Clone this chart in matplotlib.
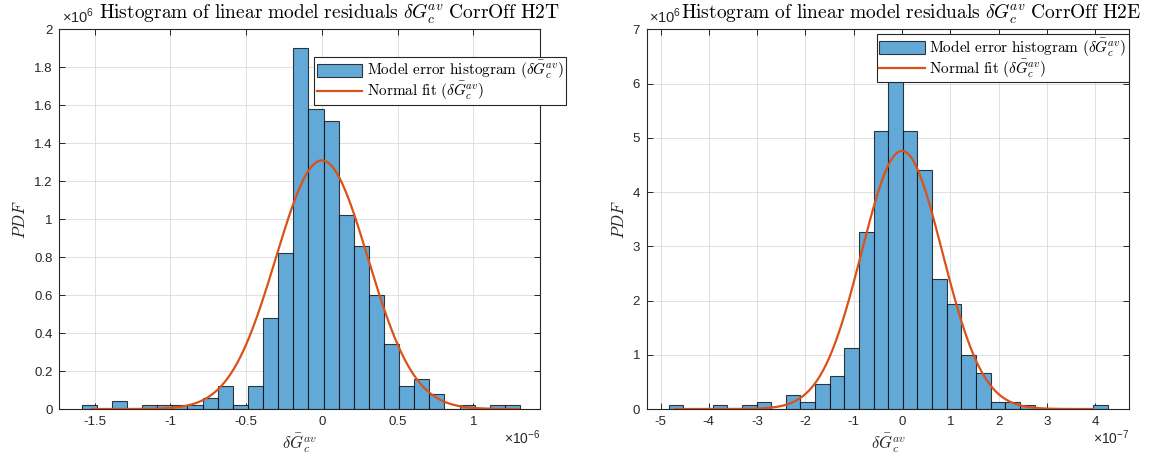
import numpy as np
import matplotlib
matplotlib.use("Agg")
import matplotlib.pyplot as plt
from matplotlib.ticker import FuncFormatter, MultipleLocator

plt.rcParams['font.family'] = ['Liberation Sans', 'DejaVu Sans']
plt.rcParams['mathtext.fontset'] = 'cm'
plt.rcParams['mathtext.rm'] = 'Liberation Sans'

# --- H2T: histogram densities (PDF) per bin, bins start at left_start, width left_width
left_start = -1.586e-6
left_width = 0.0998e-6
left_pdf = [0.02, 0, 0.04, 0, 0.02, 0.02, 0.02, 0.02, 0.06, 0.12,
            0.02, 0.12, 0.48, 0.82, 1.90, 1.58, 1.52, 1.02, 0.86, 0.60,
            0.34, 0.12, 0.16, 0.08, 0, 0.02, 0, 0.02, 0.02]
left_pdf = np.array(left_pdf) * 1e6
left_mu, left_sigma = 0.0, 3.045e-7
left_fit_range = (-1.52e-6, 1.30e-6)

# --- H2E
right_start = -4.83e-7
right_width = 0.303e-7
right_pdf = [0.066, 0, 0, 0.066, 0, 0.066, 0.13, 0, 0.26, 0.13,
             0.46, 0.60, 1.13, 3.27, 5.13, 6.07, 5.13, 4.40, 2.40, 1.93,
             0.99, 0.66, 0.13, 0.13, 0.066, 0, 0, 0, 0, 0.066]
right_pdf = np.array(right_pdf) * 1e6
right_mu, right_sigma = 0.0, 8.38e-8
right_fit_range = (-4.71e-7, 3.95e-7)

face = '#63a9d8'
fit_col = '#D95319'
dark = '#262626'

titles = [r'$\mathrm{Histogram\ of\ linear\ model\ residuals}\ \delta\bar{G}_c^{av}\ \mathrm{CorrOff\ H2T}$',
          r'$\mathrm{Histogram\ of\ linear\ model\ residuals}\ \delta\bar{G}_c^{av}\ \mathrm{CorrOff\ H2E}$']

fig = plt.figure(figsize=(11.5, 4.63), dpi=100)
ax1 = fig.add_axes([0.0517, 0.1166, 0.4178, 0.8197])
ax2 = fig.add_axes([0.5626, 0.1166, 0.4191, 0.8197])

setups = [
    (ax1, left_start, left_width, left_pdf, left_mu, left_sigma, left_fit_range,
     (-1.733e-6, 1.44e-6), (0, 2e6), 0.5e-6, 0.2e6, 1e-6, 1e6, '6', '-6', 0.0828,
     (0.2733, 0.8775)),
    (ax2, right_start, right_width, right_pdf, right_mu, right_sigma, right_fit_range,
     (-5.28e-7, 4.70e-7), (0, 7e6), 1e-7, 1e6, 1e-7, 1e6, '6', '-7', 0.0699,
     (0.7623, 0.9266)),
]

for i, (ax, start, w, pdf, mu, sig, frange, xl, yl, xstep, ystep, xsc, ysc,
        yexp, xexp, tx, legpos) in enumerate(setups):
    edges = start + w * np.arange(len(pdf) + 1)
    bars = ax.bar(edges[:-1], pdf, width=w, align='edge', color=face,
                  edgecolor=(0, 0, 0, 0.75), linewidth=0.8, zorder=2)
    xs = np.linspace(frange[0], frange[1], 400)
    ys = np.exp(-0.5 * ((xs - mu) / sig) ** 2) / (sig * np.sqrt(2 * np.pi))
    fit_line, = ax.plot(xs, ys, color=fit_col, lw=1.6, zorder=3)

    ax.set_xlim(*xl)
    ax.set_ylim(*yl)
    ax.xaxis.set_major_locator(MultipleLocator(xstep))
    ax.yaxis.set_major_locator(MultipleLocator(ystep))
    ax.xaxis.set_major_formatter(FuncFormatter(lambda v, p, s=xsc: '%g' % round(v / s, 6)))
    ax.yaxis.set_major_formatter(FuncFormatter(lambda v, p, s=ysc: '%g' % round(v / s, 6)))

    ax.grid(True, color='#dadada', lw=0.6, zorder=0)
    ax.set_axisbelow(True)
    ax.tick_params(direction='in', length=4, width=0.7, top=True, right=True,
                   labelsize=9.5, colors=dark, labelcolor=dark, pad=5)
    for sp in ax.spines.values():
        sp.set_color(dark)
        sp.set_linewidth(0.8)

    ax.set_ylabel(r'$PDF$', fontsize=12, color=dark, labelpad=4)
    ax.set_xlabel(r'$\delta\bar{G}_c^{av}$', fontsize=12, color=dark, labelpad=2)

    ax.text(0.005, 1.008, r'$\times10^{%s}$' % yexp, transform=ax.transAxes,
            ha='left', va='bottom', fontsize=10.5, color=dark, math_fontfamily='custom')
    ax.text(1.0, -0.052, r'$\times10^{%s}$' % xexp, transform=ax.transAxes,
            ha='right', va='top', fontsize=10, color=dark, math_fontfamily='custom')

    ax.text(tx, 1.008, titles[i], transform=ax.transAxes, ha='left', va='bottom',
            fontsize=14, color='black')

    leg = ax.legend([bars, fit_line],
                    [r'$\mathrm{Model\ error\ histogram}\ (\delta\bar{G}_c^{av})$',
                     r'$\mathrm{Normal\ fit}\ (\delta\bar{G}_c^{av})$'],
                    loc='upper left', bbox_to_anchor=legpos, bbox_transform=fig.transFigure,
                    borderaxespad=0, fancybox=False, framealpha=1, edgecolor=dark,
                    fontsize=11, handlelength=3.0, handleheight=0.9,
                    handletextpad=0.3, labelspacing=-0.1, borderpad=0.15)
    leg.get_frame().set_linewidth(0.8)

fig.savefig('out.png', dpi=100)
